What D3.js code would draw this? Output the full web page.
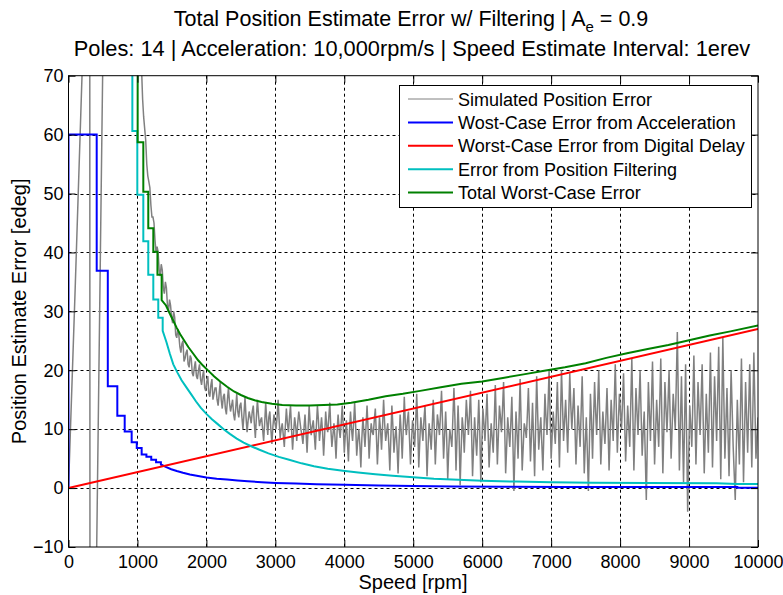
<!DOCTYPE html>
<html>
<head>
<meta charset="utf-8">
<script src="https://cdn.jsdelivr.net/npm/d3@7"></script>
<style>
  body { margin: 0; background: #fff; }
  svg text { font-family: "Liberation Sans", Arial, sans-serif; fill: #000; }
</style>
</head>
<body>
<div id="chart"></div>
<script>
// Axis ticks
const xTicks = [0, 1000, 2000, 3000, 4000, 5000, 6000, 7000, 8000, 9000, 10000];
const yTicks = [-10, 0, 10, 20, 30, 40, 50, 60, 70];

// Simulated position error: wrap-around section at low speed [rpm, edeg]
const simLow = [[0, 0], [100, 35], [196, 70], [230, 100], [308, 100], [312, -40], [398, -40],
  [409, -10], [495, 70], [520, 100], [990, 100]];

// Simulated position error sampled every 15 rpm from 1000 rpm (one row = 300 rpm)
const simStart = 1000;
const simStep = 15;
const simErr = [
  95, 88, 80, 75, 71, 66, 63, 61, 59, 55, 53, 52, 51, 48, 46, 46, 45, 42, 40, 41,
  40, 37, 36, 38, 37, 34, 33, 35, 34, 31, 30, 32, 31, 29, 28, 30, 29, 26, 25.5, 27,
  26, 24, 23, 24.5, 25, 21.5, 22, 23, 23.5, 21, 20.5, 22.5, 22, 19.5, 19, 20.5, 21.5, 19, 18.5, 20,
  21, 18.5, 17.5, 19, 20, 17, 16.5, 18, 19, 16, 15.5, 17.5, 18.5, 15, 16, 17, 17, 15, 14, 16,
  18, 15, 13.5, 15.5, 16, 13.5, 12.5, 15, 17, 14.5, 13, 14, 15, 12.5, 11.5, 13.5, 16, 13, 12, 14,
  14.5, 12, 10, 12.5, 15.5, 12, 9.5, 11.5, 13, 12, 11, 13, 14, 11, 8.5, 12, 15, 12.5, 10.5, 11.5,
  12, 10, 8, 11, 14.5, 11.5, 9, 12, 13, 10, 7.5, 10.5, 12.5, 11, 10, 12, 15, 11.5, 8.5, 10,
  11, 9, 7, 10.5, 13.5, 11, 9.5, 12, 14, 10, 6.5, 9.5, 12, 10.5, 8, 11, 13, 11.5, 10, 9,
  7.5, 10, 12.5, 9.5, 6, 10, 14, 11, 9, 10.5, 11.5, 9, 6.5, 10.5, 14, 11.5, 8, 10, 12, 9.5,
  5.5, 9, 13, 10.5, 9.5, 12, 14.5, 10, 7, 9, 11, 8.5, 5, 9.5, 12.5, 10, 8.5, 11, 14, 10.5,
  6, 9, 11.5, 8, 4.5, 9.5, 13, 10, 8, 11, 14.5, 10.5, 5.5, 8, 10, 7.5, 3.5, 8.5, 12, 9.5,
  7, 10.5, 14, 10, 5, 8.5, 11, 9.5, 9, 11.5, 13.5, 9, 4, 8, 12, 10, 6.5, 10.5, 15, 11,
  8, 9.5, 11, 7.5, 3, 8.5, 14, 10.5, 6, 8.5, 10.5, 7, 2.5, 8, 12.5, 9.5, 5, 10, 15.5, 11,
  9, 11.5, 13, 8.5, 4, 8, 11.5, 9.5, 7, 11, 16, 10.5, 3.5, 8, 12, 10, 8, 11.5, 14, 9,
  2, 7, 11, 9, 6.5, 10.5, 15, 10, 4, 8.5, 12.5, 11, 9, 12.5, 16.5, 11, 5, 9, 13, 8.5,
  1.5, 6.5, 10, 8.5, 7, 12, 17, 11.5, 3, 8.5, 14, 9, 0.5, 6.5, 12, 10, 6, 10.5, 15, 12,
  9, 12.5, 16.5, 10, 2, 7, 12, 8.5, 5.5, 10, 15, 9.5, 1, 7.5, 13.5, 11, 8, 12, 16, 10,
  3.5, 7.5, 11, 8.5, 6, 11.5, 17.5, 11, 4, 9, 14, 12, 9.5, 13.5, 18, 11, 2.5, 7, 12, 9.5,
  7, 11, 15.5, 8, -0.5, 6.5, 13, 9.5, 5, 11.5, 18.5, 11, 3, 7, 11, 10, 8.5, 12.5, 17, 11,
  4.5, 9, 14.5, 8.5, 2, 10.5, 19, 12.5, 6.5, 9.5, 12, 7.5, 3, 9.5, 16, 12, 9, 14, 20, 12.5,
  5, 9, 13, 10, 7.5, 12.5, 18, 11, 3.5, 11.5, 20, 14, 8, 11.5, 15, 10.5, 6, 12.5, 19.5, 14,
  10, 13.5, 17, 10.5, 4, 9, 14, 10.5, 7, 13, 19, 11, 2.5, 7.5, 12, 6, -0.5, 7.5, 16, 11.5,
  5, 11.5, 18, 13, 9, 14.5, 20, 12, 4, 8.5, 13, 10, 7.5, 12, 17, 10.5, 3, 9, 15, 11.5,
  8, 14.5, 21, 13.5, 6, 11, 16, 13, 10, 14.5, 19.5, 12, 4.5, 9, 14, 10.5, 7, 14.5, 22, 12.5,
  3, 10, 17, 13, 9, 14.5, 20, 12.5, 5.5, 9.5, 13, 5.5, -2, 8, 18, 13, 8, 14.5, 21.5, 12.5,
  4, 9.5, 15, 11, 7, 14.5, 22, 12.5, 2.5, 10, 18, 13.5, 9.5, 14.5, 20, 12.5, 5, 10.5, 16, 13,
  10, 18, 26.5, 14.5, 3, 11, 19, 10, 1, 11, 21, 8.5, -4, 5, 14, 10.5, 7, 14.5, 22.5, 13,
  4, 11, 18, 13.5, 9, 15, 21, 11.5, 2.5, 9, 16, 11, 6, 14.5, 23, 13, 3.5, 11, 19, 13.5,
  8, 16, 24, 12.5, 1.5, 13.5, 25.5, 15, 5, 11, 17, 9.5, 2, 11, 20, 13.5, 7, 2.5, -2, 6.5,
  15, 9.5, 4, 13, 22, 11.5, 1, 9.5, 18, 12, 6, 13.5, 21, 12, 3.5, 13, 23, 14, 5, 8.5,
  12
];

// Worst-case error from acceleration [rpm, edeg]
const accelErr = [[0, 0], [0, 60], [409, 60], [409, 36.9], [570, 36.9], [570, 17.3], [708, 17.3],
  [708, 12.3], [815, 12.3], [815, 9.6], [916, 9.6], [916, 7.8], [990, 7.8], [990, 6.8],
  [1061, 6.8], [1061, 5.7], [1130, 5.7], [1130, 5.3], [1200, 5.3], [1200, 4.8], [1270, 4.8],
  [1270, 4.4], [1340, 4.4], [1340, 4.0], [1410, 3.6],
  [1490, 3.2], [1570, 2.9], [1660, 2.6], [1760, 2.3], [1880, 2.05], [2000, 1.8], [2150, 1.6],
  [2300, 1.45], [2450, 1.3], [2600, 1.15], [2800, 1.0], [3000, 0.88], [3300, 0.76], [3600, 0.66],
  [4000, 0.56], [4500, 0.45], [5000, 0.35], [5600, 0.28], [6300, 0.24], [7200, 0.2], [8200, 0.18],
  [9700, 0.18], [9700, 0.05], [10000, 0.05]];

// Worst-case error from digital delay [rpm, edeg]
const delayErr = [[0, 0], [10000, 27]];

// Error from position filtering [rpm, edeg]
const filterErr = [[926, 120], [926, 60.6], [998, 60.6], [998, 49.8], [1085, 49.8], [1085, 41.9],
  [1157, 41.9], [1157, 36.2], [1230, 36.2], [1230, 32.0], [1302, 32.0], [1302, 28.9], [1366, 28.9],
  [1366, 26.7], [1420, 24.8], [1470, 22.8], [1520, 21.0], [1580, 19.6], [1640, 18.3], [1710, 17.1],
  [1780, 15.9], [1850, 14.7], [1920, 13.6], [2000, 12.6], [2080, 11.7], [2160, 10.9], [2250, 10.0],
  [2340, 9.2], [2440, 8.4], [2540, 7.7], [2650, 7.1], [2770, 6.5], [2900, 5.9], [3050, 5.3],
  [3200, 4.8], [3380, 4.2], [3560, 3.7], [3760, 3.3], [3980, 2.95], [4200, 2.65], [4450, 2.35],
  [4700, 2.1], [5000, 1.85], [5300, 1.6], [5650, 1.4], [6000, 1.25], [6500, 1.1], [7000, 1.0],
  [7600, 0.9], [8400, 0.85], [9400, 0.8], [9700, 0.7], [10000, 0.7]];

// Total worst-case error [rpm, edeg]
const totalErr = [[1003, 120], [1003, 58.7], [1085, 58.7], [1085, 50.3], [1157, 50.3], [1157, 44.1],
  [1230, 44.1], [1230, 40.1], [1290, 40.1], [1290, 36.2], [1351, 36.2], [1351, 31.9], [1414, 31.0],
  [1470, 29.6], [1520, 28.4], [1570, 27.2], [1620, 26.1], [1680, 25.0], [1740, 23.9], [1810, 22.8],
  [1880, 21.7], [1950, 20.8], [2030, 19.9], [2110, 19.0], [2200, 18.1], [2300, 17.2], [2400, 16.4],
  [2500, 15.8], [2600, 15.3], [2700, 14.9], [2800, 14.6], [2950, 14.3], [3100, 14.1], [3300, 14.0],
  [3500, 14.0], [3700, 14.1], [3900, 14.2], [4100, 14.5], [4350, 15.0], [4600, 15.6], [4850, 16.0],
  [5100, 16.5], [5400, 17.1], [5700, 17.7], [6000, 18.1], [6300, 18.7], [6600, 19.3], [6900, 19.9],
  [7200, 20.5], [7500, 21.2], [7800, 22.1], [8100, 22.9], [8400, 23.6], [8700, 24.3], [9000, 25.1],
  [9300, 25.9], [9600, 26.6], [10000, 27.6]];

const legendLabels = ["Simulated Position Error", "Wost-Case Error from Acceleration",
  "Worst-Case Error from Digital Delay", "Error from Position Filtering", "Total Worst-Case Error"];

const width = 783, height = 595;
const margin = { top: 75.7, right: 25, bottom: 48, left: 68.5 };

const svg = d3.select('#chart').append('svg')
  .attr('width', width)
  .attr('height', height);

const x = d3.scaleLinear().domain([0, 10000]).range([margin.left, width - margin.right]);
const y = d3.scaleLinear().domain([-10, 70]).range([height - margin.bottom, margin.top]);

// Clip to the axes box
svg.append('clipPath').attr('id', 'plot-clip')
  .append('rect')
  .attr('x', x(0)).attr('y', y(70))
  .attr('width', x(10000) - x(0)).attr('height', y(-10) - y(70));

// Grid lines
const grid = svg.append('g').attr('stroke', '#000').attr('stroke-width', 1)
  .attr('stroke-dasharray', '3,3');
grid.selectAll('.gx').data(xTicks.slice(1, -1)).join('line')
  .attr('x1', d => Math.round(x(d)) + 0.5).attr('x2', d => Math.round(x(d)) + 0.5)
  .attr('y1', y(70)).attr('y2', y(-10));
grid.selectAll('.gy').data(yTicks.slice(1, -1)).join('line')
  .attr('y1', d => Math.round(y(d)) + 0.5).attr('y2', d => Math.round(y(d)) + 0.5)
  .attr('x1', x(0)).attr('x2', x(10000));

// Series lines
const line = d3.line().x(d => x(d[0])).y(d => y(d[1]));
const plot = svg.append('g').attr('clip-path', 'url(#plot-clip)').attr('fill', 'none');

const simPoints = simLow.concat(simErr.map((v, i) => [simStart + i * simStep, v]));

const series = [
  { data: simPoints, color: '#808080', width: 1.5, legendWidth: 1 },
  { data: accelErr, color: '#0000ff', width: 2 },
  { data: delayErr, color: '#ff0000', width: 2 },
  { data: filterErr, color: '#00bfbf', width: 2 },
  { data: totalErr, color: '#008000', width: 2 }
];

series.forEach(s => {
  plot.append('path')
    .attr('d', line(s.data))
    .attr('stroke', s.color)
    .attr('stroke-width', s.width)
    .attr('stroke-linejoin', 'miter');
});

// Axes with inward ticks on all four sides
function styleAxis(g) {
  g.selectAll('.domain').remove();
  g.selectAll('line').attr('stroke', '#000');
  g.selectAll('text').style('font-size', '18px');
}

svg.append('g')
  .attr('transform', `translate(0,${y(-10)})`)
  .call(d3.axisBottom(x).tickValues(xTicks).tickFormat(d3.format('d'))
    .tickSizeInner(-7).tickSizeOuter(0).tickPadding(8))
  .call(styleAxis);
svg.append('g')
  .attr('transform', `translate(0,${y(70)})`)
  .call(d3.axisTop(x).tickValues(xTicks).tickSizeInner(-7).tickSizeOuter(0).tickFormat(''))
  .call(styleAxis);
svg.append('g')
  .attr('transform', `translate(${x(0)},0)`)
  .call(d3.axisLeft(y).tickValues(yTicks).tickFormat(d3.format('d'))
    .tickSizeInner(-7).tickSizeOuter(0).tickPadding(5))
  .call(styleAxis);
svg.append('g')
  .attr('transform', `translate(${x(10000)},0)`)
  .call(d3.axisRight(y).tickValues(yTicks).tickSizeInner(-7).tickSizeOuter(0).tickFormat(''))
  .call(styleAxis);

// Axes box
svg.append('rect')
  .attr('x', x(0)).attr('y', y(70))
  .attr('width', x(10000) - x(0)).attr('height', y(-10) - y(70))
  .attr('fill', 'none').attr('stroke', '#000').attr('stroke-width', 1);

// Legend
const legend = svg.append('g');
legend.append('rect')
  .attr('x', 399.5).attr('y', 85.5).attr('width', 352).attr('height', 122)
  .attr('fill', '#fff').attr('stroke', '#000').attr('stroke-width', 1);
legendLabels.forEach((label, i) => {
  const cy = 99 + i * 23.4;
  legend.append('line')
    .attr('x1', 408).attr('x2', 453).attr('y1', cy).attr('y2', cy)
    .attr('stroke', series[i].color).attr('stroke-width', series[i].legendWidth || series[i].width);
  legend.append('text')
    .attr('x', 458).attr('y', cy + 6.5)
    .style('font-size', '18px')
    .text(label);
});

// Titles
const title = svg.append('text')
  .attr('x', 411).attr('y', 26)
  .attr('text-anchor', 'middle')
  .style('font-size', '21.5px');
title.append('tspan').text('Total Position Estimate Error w/ Filtering | A');
title.append('tspan').attr('dy', 6).style('font-size', '15px').text('e');
title.append('tspan').attr('dy', -6).text(' = 0.9');

svg.append('text')
  .attr('x', 412).attr('y', 56)
  .attr('text-anchor', 'middle')
  .style('font-size', '21.8px')
  .text('Poles: 14 | Acceleration: 10,000rpm/s | Speed Estimate Interval: 1erev');

// Axis labels
svg.append('text')
  .attr('x', 413).attr('y', 589)
  .attr('text-anchor', 'middle')
  .style('font-size', '20px')
  .text('Speed [rpm]');

svg.append('text')
  .attr('transform', `translate(26,${(y(70) + y(-10)) / 2}) rotate(-90)`)
  .attr('text-anchor', 'middle')
  .style('font-size', '20px')
  .text('Position Estimate Error [edeg]');
</script>
</body>
</html>
